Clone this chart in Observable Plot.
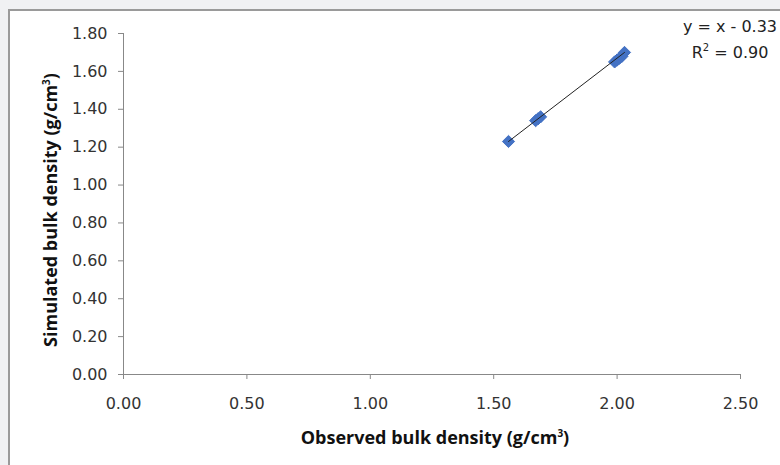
<!DOCTYPE html>
<html>
<head>
<meta charset="utf-8">
<script src="https://cdn.jsdelivr.net/npm/d3@7"></script>
<script src="https://cdn.jsdelivr.net/npm/@observablehq/plot@0.6"></script>
<style>
  html, body { margin: 0; padding: 0; background: #f0f1f3; width: 780px; height: 465px; overflow: hidden; }
  #frame { position: absolute; left: 8px; top: 9px; width: 772px; height: 456px; background: #fff;
           border-left: 2px solid #9a9a9a; border-top: 2px solid #9a9a9a; box-sizing: border-box; }
  #chart { position: absolute; left: -2px; top: -2px; }
  #chart svg text { font-size: 16px; font-family: "DejaVu Sans", sans-serif; fill: #333; }
  .eq { position: absolute; font-family: "DejaVu Sans", sans-serif; font-size: 16px; color: #222; white-space: nowrap; transform: translate(-50%, -50%); }
  .ttl { position: absolute; font-family: "Open Sans", sans-serif; font-size: 18px; font-weight: bold; color: #111; white-space: nowrap; }
  sup { font-size: 10px; vertical-align: 7px; line-height: 0; }
</style>
</head>
<body>
<div id="frame">
  <div id="chart"></div>
  <div class="eq" style="left:720px; top:15px;">y = x - 0.33</div>
  <div class="eq" style="left:720px; top:41px;">R<sup>2</sup> = 0.90</div>
  <div class="ttl" style="left:425px; top:426px; transform: translate(-50%, -50%);">Observed bulk density (g/cm<sup>3</sup>)</div>
  <div class="ttl" style="left:40px; top:199px; transform: translate(-50%, -50%) rotate(-90deg);">Simulated bulk density (g/cm<sup>3</sup>)</div>
</div>
<script>
const observed  = [1.56, 1.67, 1.68, 1.69, 1.99, 2.00, 2.01, 2.02, 2.03];
const simulated = [1.23, 1.34, 1.35, 1.36, 1.65, 1.66, 1.67, 1.68, 1.70];
const xTicks = [0, 0.5, 1.0, 1.5, 2.0, 2.5];
const yTicks = [0, 0.2, 0.4, 0.6, 0.8, 1.0, 1.2, 1.4, 1.6, 1.8];
const slope = 1, intercept = -0.33;

const pts = observed.map((x, i) => ({x, y: simulated[i]}));
const xe = d3.extent(observed);
const trend = xe.map(x => ({x, y: slope * x + intercept}));

const plot = Plot.plot({
  width: 772, height: 458,
  marginLeft: 115, marginRight: 40, marginTop: 24, marginBottom: 93,
  style: { fontFamily: "'DejaVu Sans', sans-serif", fontSize: "16px", color: "#333", background: "transparent" },
  x: { domain: [0, 2.5], label: null },
  y: { domain: [0, 1.8], label: null },
  marks: [
    Plot.axisX({ ticks: xTicks, tickFormat: d3.format(".2f"), tickSize: 5, tickPadding: 18, stroke: "#888", label: null, fontSize: 16 }),
    Plot.axisY({ ticks: yTicks, tickFormat: d3.format(".2f"), tickSize: 5, tickPadding: 11, stroke: "#888", label: null, fontSize: 16 }),
    Plot.ruleY([0], { stroke: "#888" }),
    Plot.ruleX([0], { stroke: "#888" }),
    Plot.dot(pts, { x: "x", y: "y", symbol: "diamond2", r: 5.5, fill: "#4472c4", stroke: "#4472c4", strokeWidth: 1 }),
    Plot.line(trend, { x: "x", y: "y", stroke: "#222", strokeWidth: 1 })
  ]
});
document.getElementById("chart").appendChild(plot);
</script>
</body>
</html>
